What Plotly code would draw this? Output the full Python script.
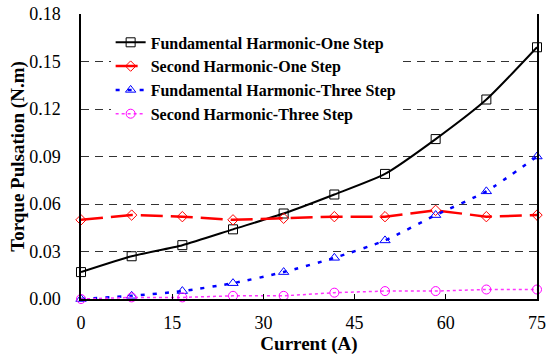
import plotly.graph_objects as go

current = [0, 8.33, 16.67, 25, 33.33, 41.67, 50, 58.33, 66.67, 75]
fund_one = [0.017, 0.027, 0.034, 0.044, 0.054, 0.066, 0.079, 0.101, 0.126, 0.159]
second_one = [0.050, 0.053, 0.052, 0.050, 0.051, 0.052, 0.052, 0.056, 0.052, 0.053]
fund_three = [0.000, 0.002, 0.005, 0.010, 0.017, 0.026, 0.037, 0.053, 0.068, 0.090]
second_three = [0.000, 0.001, 0.001, 0.002, 0.002, 0.004, 0.005, 0.005, 0.006, 0.006]

names = ["Fundamental Harmonic-One Step", "Second Harmonic-One Step",
         "Fundamental Harmonic-Three Step", "Second Harmonic-Three Step"]
x_ticks = [0, 15, 30, 45, 60, 75]
y_ticks = [0.00, 0.03, 0.06, 0.09, 0.12, 0.15, 0.18]

fig = go.Figure()
fig.add_trace(go.Scatter(x=current, y=fund_one, name=names[0], mode="lines+markers",
                         line=dict(color="black", width=2, shape="spline", smoothing=0.6),
                         marker=dict(symbol="square-open", size=9, color="black", line=dict(width=1)),
                         cliponaxis=False))
fig.add_trace(go.Scatter(x=current, y=second_one, name=names[1], mode="lines+markers",
                         line=dict(color="#ff0000", width=2.5, dash="22px,8px"),
                         marker=dict(symbol="diamond-open", size=8, color="#ff0000", line=dict(width=1)),
                         cliponaxis=False))
fig.add_trace(go.Scatter(x=current, y=fund_three, name=names[2], mode="lines+markers",
                         line=dict(color="#0000ff", width=2.5, dash="4px,8px", shape="spline", smoothing=0.6),
                         marker=dict(symbol="triangle-up-open", size=9, color="#0000ff", line=dict(width=1)),
                         cliponaxis=False))
fig.add_trace(go.Scatter(x=current, y=second_three, name=names[3], mode="lines+markers",
                         line=dict(color="#ff33ff", width=1.5, dash="dot"),
                         marker=dict(symbol="circle-open", size=9, color="#ff00ff", line=dict(width=1)),
                         cliponaxis=False))

font = "'Liberation Serif', 'DejaVu Serif', serif"
fig.update_layout(
    width=558, height=356,
    margin=dict(l=81, r=21, t=14, b=57),
    paper_bgcolor="white", plot_bgcolor="white",
    font=dict(family=font, size=18, color="black"),
    showlegend=True,
    legend=dict(x=0.065, y=0.96, xanchor="left", yanchor="top",
                bgcolor="white", font=dict(family=font, size=16, color="black", weight="bold"),
                itemwidth=30, tracegroupgap=0, traceorder="normal"),
    xaxis=dict(range=[0, 75], tickvals=x_ticks, ticks="inside", ticklen=5, tickcolor="black",
               showline=True, linecolor="black", linewidth=1.5, showgrid=False, zeroline=False,
               tickfont=dict(family=font, size=18), ticklabelstandoff=7, automargin=False,
               title=dict(text="Current (A)", standoff=3, font=dict(family=font, size=19, weight="bold"))),
    yaxis=dict(range=[0, 0.18], tickvals=y_ticks, tickformat=".2f", ticks="",
               showline=True, linecolor="black", linewidth=1.5, mirror=True,
               tickfont=dict(family=font, size=18), ticklabelstandoff=15, automargin=False,
               showgrid=True, gridcolor="#333333", gridwidth=1, griddash="8px,6px", zeroline=False,
               title=dict(text="Torque Pulsation (N.m)", standoff=0, font=dict(family=font, size=19, weight="bold"))),
)
fig.write_html("out.html")
